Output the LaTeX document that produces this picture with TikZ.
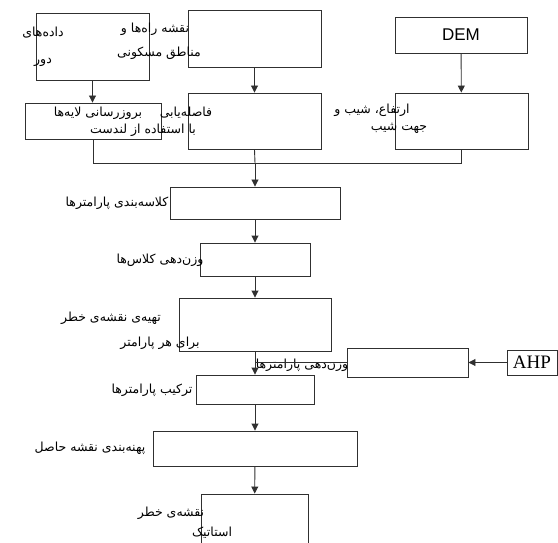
\documentclass[tikz,border=0pt]{standalone}
\usepackage{fontspec}
\usepackage{tikz}
\usetikzlibrary{arrows.meta, positioning, calc}
\newfontfamily\farsifont[Script=Arabic]{DejaVu Sans}
\newfontfamily\demfont{Liberation Sans}
\newfontfamily\ahpfont{Liberation Serif}
\TeXXeTstate=1
\newcommand{\fatext}[1]{{\farsifont\beginR #1\endR}}
\definecolor{flowline}{HTML}{303030}

\begin{document}
\begin{tikzpicture}[
  x=1pt, y=-1pt,
  box/.style={draw=flowline, line width=0.9pt, inner sep=0pt},
  fatxt/.style={inner sep=0pt, font=\fontsize{12.5}{14}\selectfont},
  arr/.style={-{Triangle[length=7pt,width=7pt]}, line width=0.9pt, flowline},
  link/.style={line width=0.9pt, flowline}
]
\useasboundingbox (0,0) rectangle (558,543);

\node[box, minimum width=113pt, minimum height=67pt] (data) at (92.5,46.5) {};
\node[box, minimum width=133pt, minimum height=57pt] (roads) at (254.5,38.5) {};
\node[box, minimum width=132pt, minimum height=36pt, font=\demfont\fontsize{17}{20}\selectfont] (dem) at (461,35) {DEM};
\node[box, minimum width=136pt, minimum height=36pt] (update) at (93.5,121) {};
\node[box, minimum width=133pt, minimum height=56pt] (distance) at (254.5,121) {};
\node[box, minimum width=133pt, minimum height=56pt] (slope) at (461.5,121) {};
\node[box, minimum width=170pt, minimum height=32pt] (classify) at (255,203) {};
\node[box, minimum width=110pt, minimum height=33pt] (classw) at (255,259.5) {};
\node[box, minimum width=152pt, minimum height=53pt] (hazard) at (255,324.5) {};
\node[box, minimum width=121pt, minimum height=29pt] (paramw) at (407.5,362.5) {};
\node[box, minimum width=50pt, minimum height=25pt, font=\ahpfont\fontsize{19}{22}\selectfont] (ahp) at (532,362.5) {AHP};
\node[box, minimum width=118pt, minimum height=29pt] (combine) at (255,389.5) {};
\node[box, minimum width=204pt, minimum height=35pt] (zoning) at (255,448.5) {};
\node[box, minimum width=107pt, minimum height=64pt] (final) at (254.5,526) {};

\node[fatxt] (data-t1) at (43,33) {\fatext{داده‌های}};
\node[fatxt] (data-t2) at (43,62) {\fatext{دور}};
\node[fatxt] (roads-t1) at (155,29) {\fatext{نقشه راه‌ها و}};
\node[fatxt] (roads-t2) at (159,53) {\fatext{مناطق مسکونی}};
\node[fatxt] (update-t1) at (98,113) {\fatext{بروزرسانی لایه‌ها}};
\node[fatxt] (distance-t1) at (186,113) {\fatext{فاصله‌یابی}};
\node[fatxt] (update-t2) at (143,130) {\fatext{با استفاده از لندست}};
\node[fatxt] (slope-t1) at (372,110) {\fatext{ارتفاع، شیب و}};
\node[fatxt] (slope-t2) at (399,128) {\fatext{جهت شیب}};
\node[fatxt] (classify-t1) at (117,203) {\fatext{کلاسه‌بندی پارامترها}};
\node[fatxt] (classw-t1) at (160,260) {\fatext{وزن‌دهی کلاس‌ها}};
\node[fatxt] (hazard-t1) at (111,318) {\fatext{تهیه‌ی نقشه‌ی خطر}};
\node[fatxt] (hazard-t2) at (160,343) {\fatext{برای هر پارامتر}};
\node[fatxt] (paramw-t1) at (302,365) {\fatext{وزن‌دهی پارامترها}};
\node[fatxt] (combine-t1) at (152,390) {\fatext{ترکیب پارامترها}};
\node[fatxt] (zoning-t1) at (90,448) {\fatext{پهنه‌بندی نقشه حاصل}};
\node[fatxt] (final-t1) at (171,513) {\fatext{نقشه‌ی خطر}};
\node[fatxt] (final-t2) at (212,533) {\fatext{استاتیک}};

\coordinate (merge) at (255,163);

\draw[arr] (data.south) -- (data.south |- update.north);
\draw[arr] (roads) -- (distance);
\draw[arr] (dem) -- (slope);
\draw[link] (update.south) -- (update.south |- merge) -- (slope.south |- merge) -- (slope.south);
\draw[link] (distance.south) -- (merge);
\draw[arr] (merge) -- (classify.north);
\draw[arr] (classify) -- (classw);
\draw[arr] (classw) -- (hazard);
\draw[arr] (hazard) -- (combine);
\draw[link] (paramw.west) -- (paramw.west -| hazard.south);
\draw[arr] (ahp) -- (paramw);
\draw[arr] (combine) -- (zoning);
\draw[arr] (zoning) -- (final);
\end{tikzpicture}
\end{document}
